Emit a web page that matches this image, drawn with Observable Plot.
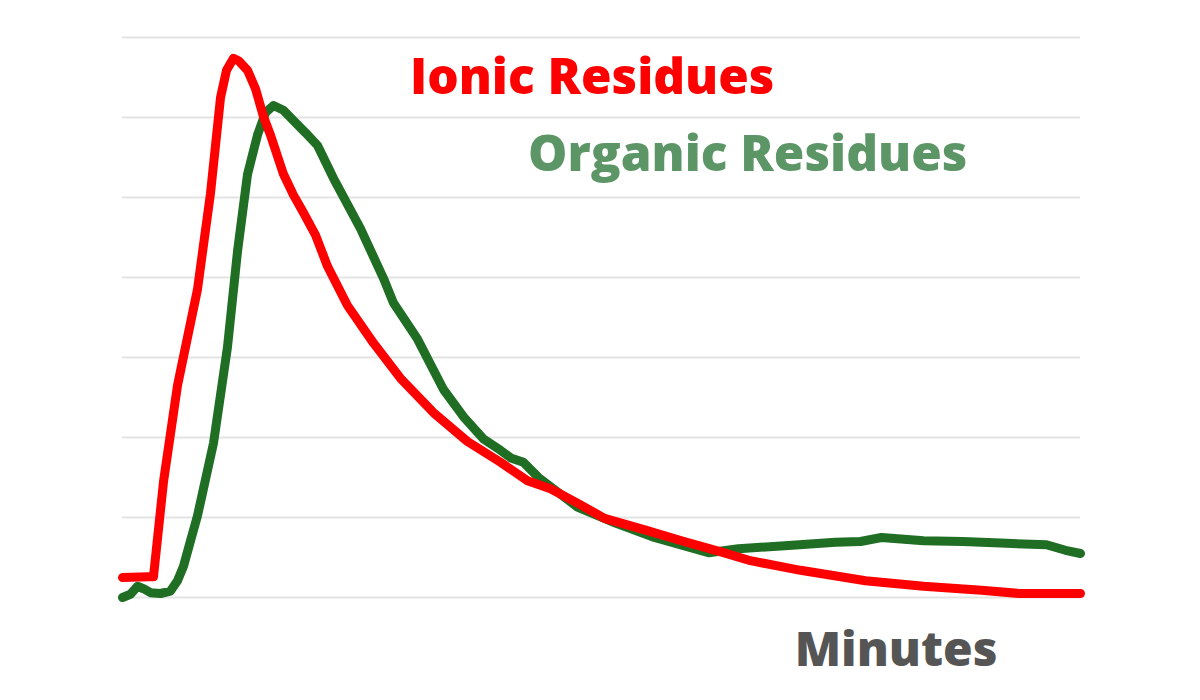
<!DOCTYPE html>
<html>
<head>
<meta charset="utf-8">
<script src="https://cdn.jsdelivr.net/npm/d3@7"></script>
<script src="https://cdn.jsdelivr.net/npm/@observablehq/plot@0.6"></script>
<style>
  html, body { margin: 0; padding: 0; background: #fff; }
  #chart { width: 1200px; height: 700px; }
</style>
</head>
<body>
<div id="chart"></div>
<script>
// Minutes (x) and relative signal (y)
const ionicX = [0, 3.26, 3.88, 5.14, 6.89, 9.39, 11.02, 12.28, 13.03, 13.90, 14.53, 15.66, 16.66, 17.66, 18.54, 20.17, 21.42, 22.67, 24.18, 25.68, 28.18, 31.44, 34.82, 38.96, 43.21, 47.35, 50.73, 53.61, 56.99, 60.38, 65.64, 70.02, 75.28, 78.66, 84.93, 93.07, 100.33, 107.60, 112.36, 120];
const ionicY = [0.25, 0.26, 0.26, 1.45, 2.65, 3.85, 5.05, 6.25, 6.59, 6.74, 6.71, 6.59, 6.36, 6.01, 5.78, 5.29, 5.03, 4.81, 4.53, 4.14, 3.65, 3.18, 2.74, 2.31, 1.95, 1.69, 1.46, 1.36, 1.18, 0.99, 0.84, 0.71, 0.56, 0.46, 0.34, 0.21, 0.14, 0.09, 0.05, 0.05];

const organicX = [0, 1.0, 1.88, 2.63, 3.51, 4.76, 6.01, 6.89, 7.64, 8.52, 9.39, 11.40, 13.15, 14.41, 15.66, 16.91, 17.91, 18.91, 20.17, 21.42, 22.92, 24.43, 26.43, 29.81, 32.69, 33.95, 36.95, 40.21, 42.71, 45.22, 47.35, 48.73, 50.23, 52.11, 56.99, 61.75, 66.64, 73.40, 77.16, 83.42, 89.31, 92.44, 95.07, 100.33, 105.22, 109.98, 115.74, 118.12, 120];
const organicY = [0.0, 0.04, 0.14, 0.11, 0.06, 0.05, 0.08, 0.21, 0.39, 0.71, 1.02, 1.93, 3.13, 4.33, 5.29, 5.78, 6.06, 6.15, 6.09, 5.96, 5.81, 5.65, 5.24, 4.61, 3.99, 3.68, 3.23, 2.60, 2.26, 1.98, 1.84, 1.74, 1.69, 1.50, 1.13, 0.93, 0.75, 0.56, 0.61, 0.65, 0.69, 0.70, 0.75, 0.71, 0.70, 0.68, 0.66, 0.59, 0.55];

const gridTicks = [0, 1, 2, 3, 4, 5, 6, 7];

const labelText = ["Ionic Residues", "Organic Residues", "Minutes"];
const labelX = [36.0, 50.8, 84.2];
const labelY = [6.3, 5.33, -0.85];
const labelColor = ["#ff0000", "#5c9666", "#555555"];
const labelSize = [49.5, 49.5, 48];

const ionic = ionicX.map((x, i) => ({x, y: ionicY[i]}));
const organic = organicX.map((x, i) => ({x, y: organicY[i]}));
const labels = labelText.map((t, i) => ({t, x: labelX[i], y: labelY[i], c: labelColor[i], s: labelSize[i]}));

const chart = Plot.plot({
  width: 1200,
  height: 700,
  marginLeft: 122,
  marginRight: 120,
  marginTop: 37,
  marginBottom: 103,
  x: {domain: [0, 120], axis: null},
  y: {domain: [0, 7], axis: null},
  style: {background: "#fff"},
  marks: [
    Plot.gridY(gridTicks, {stroke: "#e3e3e3", strokeOpacity: 1, strokeWidth: 2}),
    Plot.line(organic, {x: "x", y: "y", stroke: "#1f6e24", strokeWidth: 9, curve: "linear", strokeLinejoin: "round", strokeLinecap: "round"}),
    Plot.line(ionic, {x: "x", y: "y", stroke: "#ff0000", strokeWidth: 9, curve: "linear", strokeLinejoin: "round", strokeLinecap: "round"}),
    Plot.text(labels, {x: "x", y: "y", text: "t", fill: "c", fontSize: "s", textAnchor: "start", lineAnchor: "bottom", fontWeight: 800, fontFamily: "'Open Sans', sans-serif"})
  ]
});
document.getElementById("chart").appendChild(chart);
</script>
</body>
</html>
